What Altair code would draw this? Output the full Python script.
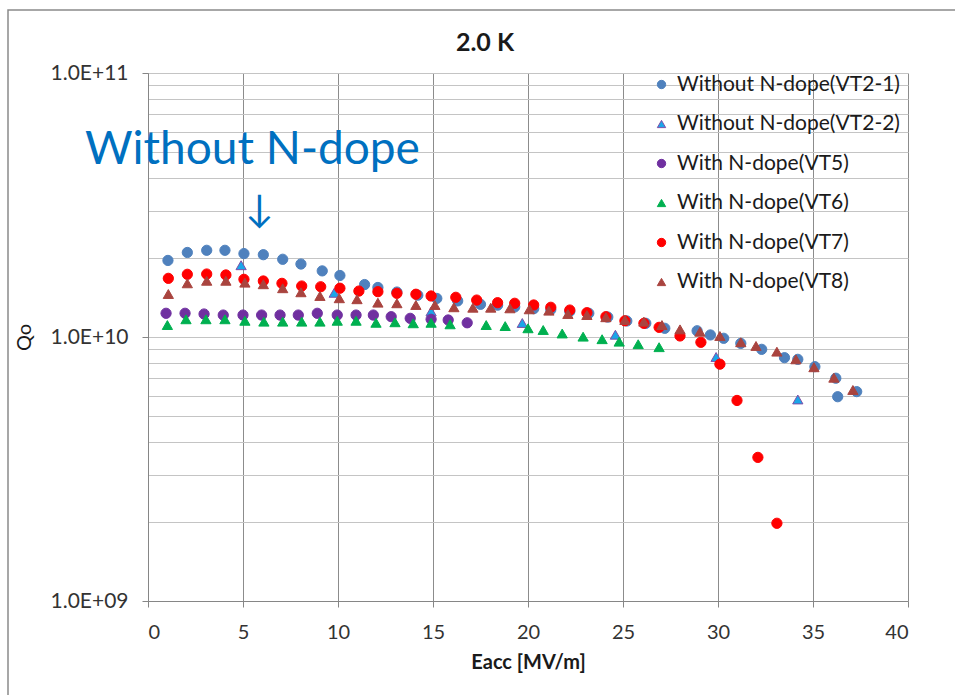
import altair as alt
import pandas as pd

# --- Q0 vs Eacc measurements at 2.0 K ---
SERIES = [
    "Without N-dope(VT2-1)",
    "Without N-dope(VT2-2)",
    "With N-dope(VT5)",
    "With N-dope(VT6)",
    "With N-dope(VT7)",
    "With N-dope(VT8)",
]

vt2_1_eacc = [1.05, 2.07, 3.09, 4.05, 5.05, 6.07, 7.09, 8.05, 9.17, 10.1, 11.4, 12.1, 13.1,
              14.2, 15.2, 16.3, 17.5, 18.4, 19.3, 20.3, 21.2, 22.2, 23.2, 24.2, 25.2, 26.2,
              27.2, 28.9, 29.6, 30.3, 31.2, 32.3, 33.5, 34.2, 35.1, 36.2, 36.3, 37.3]
vt2_1_q = [1.95e10, 2.09e10, 2.13e10, 2.13e10, 2.07e10, 2.05e10, 1.97e10, 1.89e10, 1.78e10,
           1.71e10, 1.58e10, 1.54e10, 1.48e10, 1.44e10, 1.40e10, 1.37e10, 1.33e10, 1.32e10,
           1.30e10, 1.28e10, 1.27e10, 1.25e10, 1.23e10, 1.19e10, 1.15e10, 1.127e10, 1.079e10,
           1.056e10, 1.018e10, 9.89e9, 9.46e9, 8.98e9, 8.35e9, 8.23e9, 7.72e9, 6.98e9,
           5.94e9, 6.21e9]

vt2_2_eacc = [4.9, 9.8, 14.9, 19.7, 24.6, 29.9, 34.2]
vt2_2_q = [1.87e10, 1.47e10, 1.25e10, 1.13e10, 1.02e10, 8.4e9, 5.8e9]

vt5_eacc = [0.95, 1.95, 2.95, 3.96, 5.0, 5.98, 6.95, 7.91, 8.91, 9.96, 10.95, 11.86, 12.8,
            13.8, 14.9, 15.8, 16.8]
vt5_q = [1.23e10, 1.23e10, 1.222e10, 1.211e10, 1.211e10, 1.211e10, 1.211e10, 1.211e10,
         1.23e10, 1.211e10, 1.211e10, 1.211e10, 1.194e10, 1.177e10, 1.167e10, 1.16e10,
         1.132e10]

vt6_eacc = [1.02, 2.0, 3.05, 4.05, 5.1, 6.1, 7.09, 8.09, 9.05, 9.96, 10.95, 12.0, 13.0,
            13.96, 14.9, 15.9, 17.8, 18.8, 20.0, 20.8, 21.8, 22.9, 23.9, 24.8, 25.8, 26.9]
vt6_q = [1.11e10, 1.167e10, 1.167e10, 1.167e10, 1.152e10, 1.143e10, 1.143e10, 1.143e10,
         1.143e10, 1.152e10, 1.152e10, 1.132e10, 1.137e10, 1.127e10, 1.132e10, 1.117e10,
         1.11e10, 1.10e10, 1.079e10, 1.063e10, 1.031e10, 1.003e10, 9.81e9, 9.60e9, 9.39e9,
         9.15e9]

vt7_eacc = [1.07, 2.07, 3.09, 4.1, 5.05, 6.07, 7.05, 8.09, 9.09, 10.1, 11.1, 12.1, 13.1,
            14.1, 14.9, 16.2, 17.3, 18.4, 19.3, 20.3, 21.2, 22.2, 23.1, 24.1, 25.1, 26.1,
            26.9, 28.0, 29.1, 30.1, 31.0, 32.1, 33.1]
vt7_q = [1.668e10, 1.728e10, 1.732e10, 1.718e10, 1.654e10, 1.63e10, 1.597e10, 1.56e10,
         1.55e10, 1.53e10, 1.493e10, 1.485e10, 1.464e10, 1.452e10, 1.43e10, 1.414e10,
         1.38e10, 1.349e10, 1.342e10, 1.322e10, 1.296e10, 1.265e10, 1.236e10, 1.194e10,
         1.152e10, 1.127e10, 1.088e10, 1.009e10, 9.55e9, 7.89e9, 5.75e9, 3.50e9, 1.97e9]

vt8_eacc = [1.07, 2.07, 3.09, 4.1, 5.1, 6.07, 7.09, 8.05, 9.05, 10.07, 11.0, 12.1, 13.1,
            14.1, 15.1, 16.1, 17.1, 18.04, 19.05, 20.07, 21.1, 22.1, 23.1, 24.1, 25.1, 26.1,
            27.05, 28.0, 29.05, 30.1, 31.2, 32.0, 33.1, 34.1, 35.05, 36.1, 37.1]
vt8_q = [1.455e10, 1.597e10, 1.633e10, 1.633e10, 1.606e10, 1.584e10, 1.53e10, 1.477e10,
         1.43e10, 1.402e10, 1.39e10, 1.349e10, 1.342e10, 1.322e10, 1.322e10, 1.296e10,
         1.291e10, 1.291e10, 1.284e10, 1.273e10, 1.258e10, 1.222e10, 1.211e10, 1.188e10,
         1.16e10, 1.143e10, 1.11e10, 1.069e10, 1.047e10, 1.009e10, 9.55e9, 9.25e9, 8.80e9,
         8.23e9, 7.68e9, 7.01e9, 6.30e9]

FILLS = ["#4F81BD", "#1AA6E8", "#7030A0", "#00B050", "#FF0000", "#A9443F"]
STROKES = ["#4F81BD", "#7F4FA8", "#7030A0", "#00B050", "#FF0000", "#A9443F"]
SHAPES = ["circle", "triangle-up", "circle", "triangle-up", "circle", "triangle-up"]

# annotation pointing at the undoped curve
note_text = ["Without N-dope", "↓"]
note_eacc = [5.5, 5.85]
note_q = [5.1e10, 3.0e10]
note_size = [46, 38]

Y_GRID = [m * 10 ** e for e in (9, 10) for m in range(1, 10)] + [1e11]

frames = []
for name, ex, qs in zip(
    SERIES,
    [vt2_1_eacc, vt2_2_eacc, vt5_eacc, vt6_eacc, vt7_eacc, vt8_eacc],
    [vt2_1_q, vt2_2_q, vt5_q, vt6_q, vt7_q, vt8_q],
):
    frames.append(pd.DataFrame({"series": name, "Eacc": ex, "Q0": qs}))
df = pd.concat(frames, ignore_index=True)
df["k"] = range(len(df))

FONT = "Lato"
pow10 = "abs(log(datum.value)/LN10 - round(log(datum.value)/LN10)) < 1e-6"
exp10 = "round(log(datum.value)/LN10)"

legend = alt.Legend(
    title=None,
    orient="none",
    legendX=503,
    legendY=1,
    labelFont=FONT,
    labelFontSize=21,
    labelColor="#1a1a1a",
    labelLimit=400,
    symbolSize=70,
    symbolStrokeWidth=1,
    rowPadding=17.5,
    labelOffset=5,
    padding=0,
)

x_enc = alt.X(
    "Eacc:Q",
    scale=alt.Scale(domain=[0, 40], nice=False),
    axis=alt.Axis(
        values=list(range(0, 41, 5)),
        title="Eacc [MV/m]",
        titleFont=FONT,
        titleFontSize=20,
        titleFontWeight="bold",
        titleColor="#1a1a1a",
        titlePadding=10,
        labelFont=FONT,
        labelFontSize=20,
        labelColor="#333333",
        labelPadding=15,
        tickSize=6,
        tickColor="#868686",
        domainColor="#868686",
        gridColor="#8C8C8C",
        gridWidth=1,
    ),
)

y_scale = alt.Scale(type="log", domain=[1e9, 1e11], nice=False)

points = (
    alt.Chart(df)
    .mark_point(filled=True, opacity=1, strokeWidth=1)
    .encode(
        x=x_enc,
        y=alt.Y(
            "Q0:Q",
            scale=y_scale,
            axis=alt.Axis(
                values=Y_GRID,
                labelExpr="(" + pow10 + ") ? '1.0E+' + (" + exp10 + " < 10 ? '0' : '') + "
                + exp10 + " : ''",
                title="Qo",
                titleFont=FONT,
                titleFontSize=20,
                titleFontWeight="normal",
                titleColor="#1a1a1a",
                titleX=-114,
                titleY=264,
                labelFont=FONT,
                labelFontSize=21,
                labelColor="#333333",
                labelPadding=14,
                tickSize=6,
                tickColor="#868686",
                tickOpacity={"condition": {"test": pow10, "value": 1}, "value": 0},
                domainColor="#868686",
                gridColor="#C4C4C4",
                gridWidth=1,
            ),
        ),
        fill=alt.Fill("series:N", scale=alt.Scale(domain=SERIES, range=FILLS), legend=legend),
        stroke=alt.Stroke("series:N", scale=alt.Scale(domain=SERIES, range=STROKES), legend=legend),
        shape=alt.Shape("series:N", scale=alt.Scale(domain=SERIES, range=SHAPES), legend=legend),
        size=alt.value(105),
        order=alt.Order("k:Q"),
    )
)

notes = (
    alt.Chart(pd.DataFrame({"text": note_text, "Eacc": note_eacc, "Q0": note_q, "fs": note_size}))
    .mark_text(font=FONT, color="#0070C0", baseline="middle", align="center")
    .encode(
        x="Eacc:Q",
        y=alt.Y("Q0:Q", scale=y_scale),
        text="text:N",
        size=alt.Size("fs:Q", scale=None, legend=None),
    )
)

# outer chart-area border
border = (
    alt.Chart(pd.DataFrame({"b": [0]}))
    .mark_rect(fillOpacity=0, stroke="#8A8A8A", strokeWidth=1.5, clip=False)
    .encode(x=alt.value(-140), x2=alt.value(830), y=alt.value(-63), y2=alt.value(640))
)

chart = (
    alt.layer(border, points, notes)
    .properties(
        width=760,
        height=528,
        title=alt.TitleParams(
            "2.0 K",
            font=FONT,
            fontSize=25,
            fontWeight="bold",
            color="#1a1a1a",
            anchor="middle",
            dx=-43,
            dy=63,
            offset=16,
        ),
        padding={"left": 148, "top": 73, "right": 47, "bottom": 94},
        autosize=alt.AutoSizeParams(type="none"),
        background="white",
    )
    .configure_view(stroke=None)
)

chart.save("out.html", embed_options={"renderer": "svg", "actions": False})
